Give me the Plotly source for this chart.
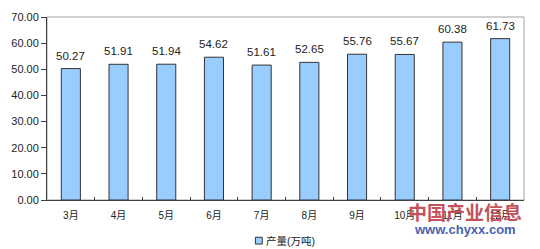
import plotly.graph_objects as go

months = ["3月", "4月", "5月", "6月", "7月", "8月", "9月", "10月", "11月", "12月"]
output = [50.27, 51.91, 51.94, 54.62, 51.61, 52.65, 55.76, 55.67, 60.38, 61.73]
series_name = "产量(万吨)"

FONT = "Liberation Sans, Arial, Noto Sans CJK SC, sans-serif"

fig = go.Figure()
fig.add_trace(go.Bar(
    x=months, y=output, name=series_name,
    marker=dict(color="#99CCFF", line=dict(color="#333333", width=1)),
    width=0.4,
    showlegend=False,
))

value_labels = [
    dict(x=m, y=v, text=f"{v:.2f}", xref="x", yref="y", showarrow=False,
         yanchor="bottom", yshift=5,
         font=dict(size=11.5, color="#222222", family=FONT))
    for m, v in zip(months, output)
]

fig.update_layout(
    width=540, height=249,
    margin=dict(l=41, r=16, t=11, b=49),
    paper_bgcolor="white", plot_bgcolor="white",
    font=dict(family=FONT, size=11, color="#222222"),
    showlegend=False,
    bargap=0.6,
    shapes=[
        dict(type="rect", xref="paper", yref="paper", x0=0, x1=1, y0=0, y1=1,
             line=dict(color="#A0A0A0", width=1), layer="below"),
        # legend swatch
        dict(type="rect", xref="paper", yref="paper",
             x0=(252 - 41) / 483, x1=(259 - 41) / 483,
             y0=(200 - 245.5) / 189, y1=(200 - 238.5) / 189,
             fillcolor="#99CCFF", line=dict(color="#333333", width=1)),
    ],
    annotations=value_labels + [
        dict(text=series_name, xref="paper", yref="paper",
             x=(261 - 41) / 483, y=(200 - 242) / 189,
             xanchor="left", yanchor="middle", showarrow=False,
             font=dict(size=10.5, color="#222222", family=FONT)),
        dict(text="<b>中国产业信息</b>", xref="paper", yref="paper", x=(524 - 41) / 483,
             y=(200 - 212) / 189,
             xanchor="right", yanchor="middle", showarrow=False, bgcolor="rgba(0,0,0,0)",
             font=dict(size=19, color="#C4525A", family="Noto Sans CJK SC")),
        dict(text="<b>www.chyxx.com</b>", xref="paper", yref="paper", x=(518 - 41) / 483,
             y=(200 - 230) / 189,
             xanchor="right", yanchor="middle", showarrow=False,
             font=dict(size=13, color="#4A62B0", family=FONT)),
    ],
)
fig.update_yaxes(range=[0, 70], dtick=10, tickformat=".2f", showgrid=False,
                 showline=True, linecolor="#404040", linewidth=1,
                 ticks="outside", ticklen=5, tickcolor="#404040",
                 tickfont=dict(size=11), zeroline=False)
fig.update_xaxes(showgrid=False, showline=True, linecolor="#404040", linewidth=1,
                 ticks="inside", ticklen=3, tickcolor="#404040", tickson="boundaries",
                 ticklabelstandoff=6, tickfont=dict(size=10))

fig.write_html("out.html")
